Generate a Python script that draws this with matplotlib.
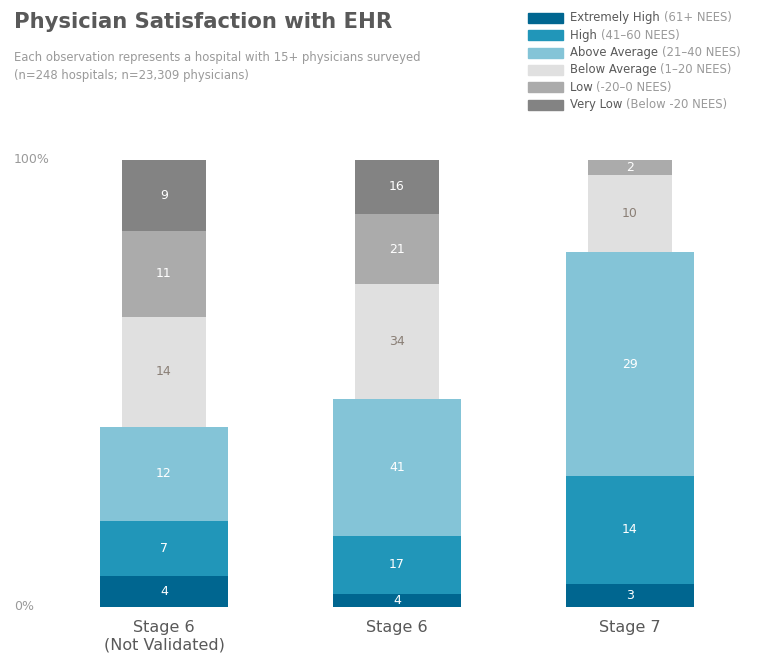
import matplotlib.pyplot as plt
import numpy as np

plt.rcParams['font.family'] = ['DejaVu Sans']

stages = ['Stage 6\n(Not Validated)', 'Stage 6', 'Stage 7']
categories = ['Extremely High', 'High', 'Above Average', 'Below Average', 'Low', 'Very Low']
ranges = ['(61+ NEES)', '(41\u201360 NEES)', '(21\u201340 NEES)', '(1\u201320 NEES)',
          '(-20\u20130 NEES)', '(Below -20 NEES)']
counts = {
    'Stage 6\n(Not Validated)': [4, 7, 12, 14, 11, 9],
    'Stage 6': [4, 17, 41, 34, 21, 16],
    'Stage 7': [3, 14, 29, 10, 2, 0],
}
colors = ['#006690', '#2196b9', '#84c4d7', '#e0e0e0', '#ababab', '#838383']
label_colors = ['white', 'white', 'white', '#8a7f76', 'white', 'white']

W, H = 761, 658
fig = plt.figure(figsize=(W / 100, H / 100), dpi=100)
ax = fig.add_axes([0, (H - 607) / H, 1, (607 - 160) / H])

step = 233
ax.set_xlim(-164 / step, (W - 164) / step)
ax.set_ylim(0, 100)
ax.axis('off')

wide, narrow = 128 / step, 84 / step
for i, st in enumerate(stages):
    vals = np.array(counts[st], dtype=float)
    pct = vals / vals.sum() * 100
    bottom = 0
    for j, p in enumerate(pct):
        if p <= 0:
            continue
        w = wide if j < 3 else narrow
        ax.bar(i, p, bottom=bottom, width=w, color=colors[j], edgecolor='none')
        ax.text(i, bottom + p / 2, str(int(vals[j])), ha='center', va='center',
                fontsize=9, color=label_colors[j])
        bottom += p
    ax.text(i, -2.9, st, ha='center', va='top', fontsize=11.5, color='#595959',
            linespacing=1.2)

yt = ax.get_yaxis_transform()
ax.text(14 / W, 0, '0%', transform=yt, ha='left', va='center', fontsize=9, color='#9a9a9a')
ax.text(14 / W, 100, '100%', transform=yt, ha='left', va='center', fontsize=9, color='#9a9a9a')

fig.text(14 / W, 1 - 22 / H, 'Physician Satisfaction with EHR', fontsize=15.2, fontweight='bold',
         color='#595959', ha='left', va='center')
fig.text(14 / W, 1 - 57 / H, 'Each observation represents a hospital with 15+ physicians surveyed',
         fontsize=8.4, color='#9a9a9a', ha='left', va='center')
fig.text(14 / W, 1 - 76 / H, '(n=248 hospitals; n=23,309 physicians)',
         fontsize=8.4, color='#9a9a9a', ha='left', va='center')

# legend
renderer = fig.canvas.get_renderer()
for k, (cat, rng) in enumerate(zip(categories, ranges)):
    yc = 18 + k * 17.3
    fig.patches.append(plt.Rectangle((528 / W, 1 - (yc + 5) / H), 35 / W, 10 / H,
                                     transform=fig.transFigure, color=colors[k]))
    t = fig.text(570 / W, 1 - yc / H, cat + ' ', fontsize=8.4, color='#595959',
                 ha='left', va='center')
    bb = t.get_window_extent(renderer)
    fig.text(bb.x1 / W, 1 - yc / H, rng, fontsize=8.4, color='#9a9a9a',
             ha='left', va='center')

fig.savefig('out.png', dpi=100)
